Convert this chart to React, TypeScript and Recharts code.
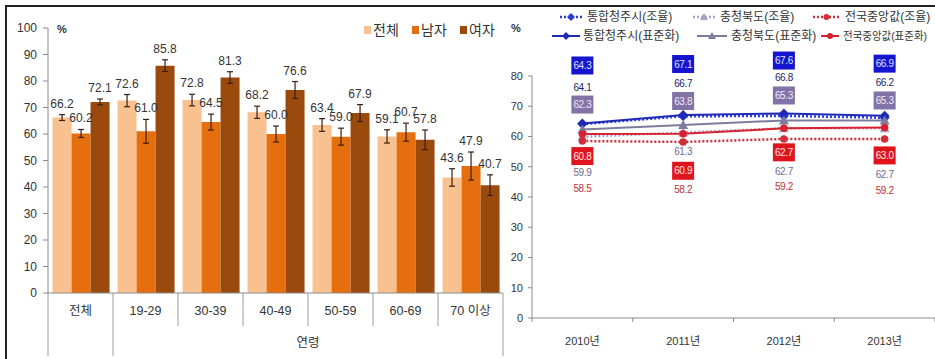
import React from 'react';
import { BarChart, Bar, XAxis, YAxis, ErrorBar, LabelList, Legend, LineChart, Line } from 'recharts';

const FONT = "'Liberation Sans', 'Noto Sans CJK KR', sans-serif";

// ---------- Left chart data ----------
const ageGroups = ['전체', '19-29', '30-39', '40-49', '50-59', '60-69', '70 이상'];
const AGE_AXIS_TITLE = '연령';
const totalRate = [66.2, 72.6, 72.8, 68.2, 63.4, 59.1, 43.6];
const maleRate = [60.2, 61.0, 64.5, 60.0, 59.0, 60.7, 47.9];
const femaleRate = [72.1, 85.8, 81.3, 76.6, 67.9, 57.8, 40.7];
const totalErr = [1.1, 2.3, 2.2, 2.3, 2.4, 2.5, 3.3];
const maleErr = [1.5, 4.5, 3.0, 3.0, 3.2, 3.4, 5.3];
const femaleErr = [1.1, 2.2, 2.2, 3.2, 3.2, 3.7, 3.9];
const leftTicks = [0, 10, 20, 30, 40, 50, 60, 70, 80, 90, 100];

// ---------- Right chart data ----------
const years = ['2010년', '2011년', '2012년', '2013년'];
const cheongjuCrude = [64.1, 66.7, 66.8, 66.2];
const cheongjuStd = [64.3, 67.1, 67.6, 66.9];
const chungbukCrude = [59.9, 61.3, 62.7, 62.7];
const chungbukStd = [62.3, 63.8, 65.3, 65.3];
const nationalCrude = [58.5, 58.2, 59.2, 59.2];
const nationalStd = [60.8, 60.9, 62.7, 63.0];
const rightTicks = [0, 10, 20, 30, 40, 50, 60, 70, 80];

const barData = ageGroups.map((g, i) => ({
  group: g,
  total: totalRate[i], male: maleRate[i], female: femaleRate[i],
  totalErr: totalErr[i], maleErr: maleErr[i], femaleErr: femaleErr[i],
}));

const lineData = years.map((y, i) => ({
  year: y,
  cheongjuCrude: cheongjuCrude[i], cheongjuStd: cheongjuStd[i],
  chungbukCrude: chungbukCrude[i], chungbukStd: chungbukStd[i],
  nationalCrude: nationalCrude[i], nationalStd: nationalStd[i],
}));

// ---------- layout ----------
const LEFT_W = 510, LEFT_H = 359;
const LEFT_MARGIN = { top: 28, right: 7, bottom: 0, left: 0 };
const LEFT_YW = 48, LEFT_XH = 66;
const LEFT_PLOT_H = LEFT_H - LEFT_MARGIN.top - LEFT_MARGIN.bottom - LEFT_XH;
const LEFT_BAND = (LEFT_W - LEFT_MARGIN.left - LEFT_MARGIN.right - LEFT_YW) / ageGroups.length;
const LEFT_PX = LEFT_PLOT_H / 100;

const RIGHT_X = 480, RIGHT_W = 455, RIGHT_H = 359;
const RIGHT_MARGIN = { top: 76, right: 0, bottom: 0, left: 0 };
const RIGHT_YW = 52, RIGHT_XH = 41;
const RIGHT_BAND = (RIGHT_W - RIGHT_YW - RIGHT_MARGIN.left - RIGHT_MARGIN.right) / years.length;

const C_TOTAL = '#F9C18F';
const C_MALE = '#E56F0E';
const C_FEMALE = '#9A4A0C';

const leftSeries = [
  { key: 'total', err: 'totalErr', name: '전체', color: C_TOTAL, errs: totalErr },
  { key: 'male', err: 'maleErr', name: '남자', color: C_MALE, errs: maleErr },
  { key: 'female', err: 'femaleErr', name: '여자', color: C_FEMALE, errs: femaleErr },
];

const rightSeries = [
  { key: 'cheongjuCrude', name: '통합청주시(조율)', color: '#2B3BD6', dashed: true, shape: 'diamond' },
  { key: 'chungbukCrude', name: '충청북도(조율)', color: '#A4A4C8', dashed: true, shape: 'triangle' },
  { key: 'nationalCrude', name: '전국중앙값(조율)', color: '#CF2E3A', dashed: true, shape: 'circle' },
  { key: 'cheongjuStd', name: '통합청주시(표준화)', color: '#1E2AB4', dashed: false, shape: 'diamond' },
  { key: 'chungbukStd', name: '충청북도(표준화)', color: '#7C7C9C', dashed: false, shape: 'triangle' },
  { key: 'nationalStd', name: '전국중앙값(표준화)', color: '#D8202E', dashed: false, shape: 'circle' },
];
// legend layout: [iconX, rowY, iconWidth, textX, maxTextWidth]
const RIGHT_LEGEND_POS = [
  [80, 17, 22, 107, 0], [213, 17, 22, 240, 0], [333, 17, 27, 365, 0],
  [72, 36, 28, 103, 0], [217, 36, 30, 251, 0], [341, 36, 18, 363, 84],
];
// label styling per series: box colour (if boxed), text colour, and vertical offsets from point
const RIGHT_LABELS: Record<string, { box?: string; color: string; dy: number[] }> = {
  cheongjuStd: { box: '#1515CF', color: '#DDE4FF', dy: [-58, -51, -53, -52] },
  cheongjuCrude: { color: '#1A1F6E', dy: [-37, -33, -38, -35] },
  chungbukStd: { box: '#8272A6', color: '#EEEAF6', dy: [-25, -24, -25, -20] },
  chungbukCrude: { color: '#6C6C8C', dy: [36, 19, 43, 46] },
  nationalStd: { box: '#E0141C', color: '#FFE6E6', dy: [22, 37, 24, 28] },
  nationalCrude: { color: '#C0303A', dy: [47, 48, 48, 52] },
};

// ---------- components ----------
const AgeTick = (p: any) => {
  const { x, y, payload, index } = p;
  const half = LEFT_BAND / 2;
  const last = ageGroups.length - 1;
  const longLen = 63;
  return (
    <g>
      {index === 0 && <line x1={x - half} x2={x - half} y1={y} y2={y + longLen} stroke="#9a9a9a" />}
      <line x1={x + half} x2={x + half} y1={y} y2={y + (index === 0 || index === last ? longLen : 33)} stroke="#9a9a9a" />
      <text x={x} y={y + 18} textAnchor="middle" dominantBaseline="central" fontSize={12.5} fill="#333" fontFamily={FONT}>
        {payload.value}
      </text>
      {index === 1 && (
        <text x={x - half + (LEFT_BAND * last) / 2} y={y + 50} textAnchor="middle" dominantBaseline="central" fontSize={12.5} fill="#333" fontFamily={FONT}>
          {AGE_AXIS_TITLE}
        </text>
      )}
    </g>
  );
};

const YearTick = (p: any) => {
  const { x, y, payload, index } = p;
  const half = RIGHT_BAND / 2;
  return (
    <g>
      {index === 0 && <line x1={x - half} x2={x - half} y1={y} y2={y + 4} stroke="#8a8a8a" />}
      <line x1={x + half} x2={x + half} y1={y} y2={y + 4} stroke="#8a8a8a" />
      <text x={x} y={y + 23} textAnchor="middle" dominantBaseline="central" fontSize={11} fill="#333" fontFamily={FONT}>
        {payload.value}
      </text>
    </g>
  );
};

function barLabel(errs: number[]) {
  return (p: any) => {
    const vb = p.viewBox || {};
    const x = p.x ?? vb.x;
    const y = p.y ?? vb.y;
    const w = p.width ?? vb.width;
    const i = p.index;
    const ty = y - errs[i] * LEFT_PX - 11;
    return (
      <text key={i} x={x + w / 2} y={ty} textAnchor="middle" dominantBaseline="central" fontSize={12} fill="#333" fontFamily={FONT}>
        {Number(p.value).toFixed(1)}
      </text>
    );
  };
}

function pointLabel(key: string) {
  const cfg = RIGHT_LABELS[key];
  return (p: any) => {
    const vb = p.viewBox || {};
    const x = p.x ?? vb.x;
    const y = p.y ?? vb.y;
    const i = p.index;
    const cy = y + cfg.dy[i];
    const txt = Number(p.value).toFixed(1);
    if (cfg.box) {
      return (
        <g key={i}>
          <rect x={x - 11} y={cy - 9} width={22} height={18} fill={cfg.box} />
          <text x={x} y={cy} textAnchor="middle" dominantBaseline="central" fontSize={10} fill={cfg.color} fontFamily={FONT} letterSpacing={-0.4}>
            {txt}
          </text>
        </g>
      );
    }
    return (
      <text key={i} x={x} y={cy} textAnchor="middle" dominantBaseline="central" fontSize={10} fill={cfg.color} fontFamily={FONT} letterSpacing={-0.4}>
        {txt}
      </text>
    );
  };
}

function shapeEl(shape: string, cx: number, cy: number, color: string, k: any, s = 5) {
  if (shape === 'diamond')
    return <polygon key={k} points={`${cx},${cy - s} ${cx + s},${cy} ${cx},${cy + s} ${cx - s},${cy}`} fill={color} />;
  if (shape === 'triangle')
    return <polygon key={k} points={`${cx},${cy - s} ${cx + s},${cy + s - 1} ${cx - s},${cy + s - 1}`} fill={color} />;
  return <circle key={k} cx={cx} cy={cy} r={s * 0.75} fill={color} />;
}

function renderDot(shape: string, color: string) {
  return (p: any) => {
    const { cx, cy, index } = p;
    if (cx == null || cy == null) return <g key={index} />;
    return shapeEl(shape, cx, cy, color, index);
  };
}

const LeftLegend = () => (
  <svg width={LEFT_W} height={45} style={{ display: 'block' }}>
    {leftSeries.map((s, i) => (
      <g key={s.key} transform={`translate(${364 + i * 48},30)`}>
        <rect x={0} y={-4} width={7} height={8} fill={s.color} />
        <text x={9} y={0} dominantBaseline="central" fontSize={14} fill="#333" fontFamily={FONT}>
          {s.name}
        </text>
      </g>
    ))}
  </svg>
);

const RightLegend = () => (
  <svg width={RIGHT_W} height={50} style={{ display: 'block' }}>
    {rightSeries.map((s, i) => {
      const [ix, ry, iw, tx, maxW] = RIGHT_LEGEND_POS[i];
      const fit = maxW ? { textLength: maxW, lengthAdjust: 'spacingAndGlyphs' as const } : {};
      return (
        <g key={s.key}>
          <line x1={ix} x2={ix + iw} y1={ry} y2={ry} stroke={s.color} strokeWidth={s.dashed ? 2.5 : 2}
            strokeDasharray={s.dashed ? '2 2' : undefined} />
          {shapeEl(s.shape, ix + iw / 2, ry, s.color, 'm', 4)}
          <text x={tx} y={ry} dominantBaseline="central" fontSize={maxW ? 11 : 12} fill="#333" fontFamily={FONT} {...fit}>
            {s.name}
          </text>
        </g>
      );
    })}
  </svg>
);

export default function App() {
  return (
    <div style={{ position: 'relative', width: 935, height: 359, overflow: 'hidden', background: '#fff' }}>
      <style>{'body{margin:0;}'}</style>
      <div style={{ position: 'absolute', left: 5, top: 5, width: 940, height: 360, borderTop: '2px solid #222', borderLeft: '2px solid #222' }} />

      <div style={{ position: 'absolute', left: 0, top: 0 }}>
        <BarChart width={LEFT_W} height={LEFT_H} data={barData} margin={LEFT_MARGIN} barCategoryGap="7%" barGap={0}>
          <XAxis dataKey="group" height={LEFT_XH} tickSize={0} tickMargin={0} tickLine={false}
            axisLine={{ stroke: '#8a8a8a' }} interval={0} tick={(p: any) => <AgeTick {...p} />} />
          <YAxis domain={[0, 100]} ticks={leftTicks} width={LEFT_YW} interval={0} tickSize={5} tickMargin={6}
            axisLine={{ stroke: '#8a8a8a' }} tickLine={{ stroke: '#8a8a8a' }}
            tick={{ fontSize: 12, fill: '#333', fontFamily: FONT }}
            label={(p: any) => {
              const vb = p.viewBox || {};
              return (
                <text x={(vb.x ?? 0) + (vb.width ?? LEFT_YW) + 9} y={(vb.y ?? 28) + 1} dominantBaseline="central" fontSize={11} fontWeight="bold" fill="#333" fontFamily={FONT}>%</text>
              );
            }} />
          <Legend layout="horizontal" verticalAlign="middle" align="center" content={() => <LeftLegend />}
            wrapperStyle={{ left: 0, top: 0, width: LEFT_W, height: 45 }} />
          {leftSeries.map((s) => (
            <Bar key={s.key} dataKey={s.key} name={s.name} fill={s.color} isAnimationActive={false}>
              <ErrorBar dataKey={s.err} width={3} stroke="#3a2010" strokeWidth={1.2} direction="y" />
              <LabelList dataKey={s.key} content={barLabel(s.errs)} />
            </Bar>
          ))}
        </BarChart>
      </div>

      <div style={{ position: 'absolute', left: RIGHT_X, top: 0 }}>
        <LineChart width={RIGHT_W} height={RIGHT_H} data={lineData} margin={RIGHT_MARGIN}>
          <XAxis dataKey="year" scale="band" height={RIGHT_XH} tickSize={0} tickMargin={0} tickLine={false}
            axisLine={{ stroke: '#8a8a8a' }} interval={0} tick={(p: any) => <YearTick {...p} />} />
          <YAxis domain={[0, 80]} ticks={rightTicks} width={RIGHT_YW} interval={0} tickSize={4} tickMargin={5}
            axisLine={{ stroke: '#8a8a8a' }} tickLine={{ stroke: '#8a8a8a' }}
            tick={{ fontSize: 11, fill: '#333', fontFamily: FONT }}
            label={(p: any) => {
              const vb = p.viewBox || {};
              return (
                <text x={(vb.x ?? 0) + 31} y={28} dominantBaseline="central" fontSize={11} fontWeight="bold" fill="#333" fontFamily={FONT}>%</text>
              );
            }} />
          <Legend layout="horizontal" verticalAlign="middle" align="center" content={() => <RightLegend />}
            wrapperStyle={{ left: 0, top: 0, width: RIGHT_W, height: 50 }} />
          {rightSeries.map((s) => (
            <Line key={s.key} dataKey={s.key} name={s.name} stroke={s.color} isAnimationActive={false}
              strokeWidth={s.dashed ? 2.5 : 2} strokeDasharray={s.dashed ? '2 2' : undefined}
              dot={renderDot(s.shape, s.color)} activeDot={false}>
              <LabelList dataKey={s.key} content={pointLabel(s.key)} />
            </Line>
          ))}
        </LineChart>
      </div>
    </div>
  );
}
